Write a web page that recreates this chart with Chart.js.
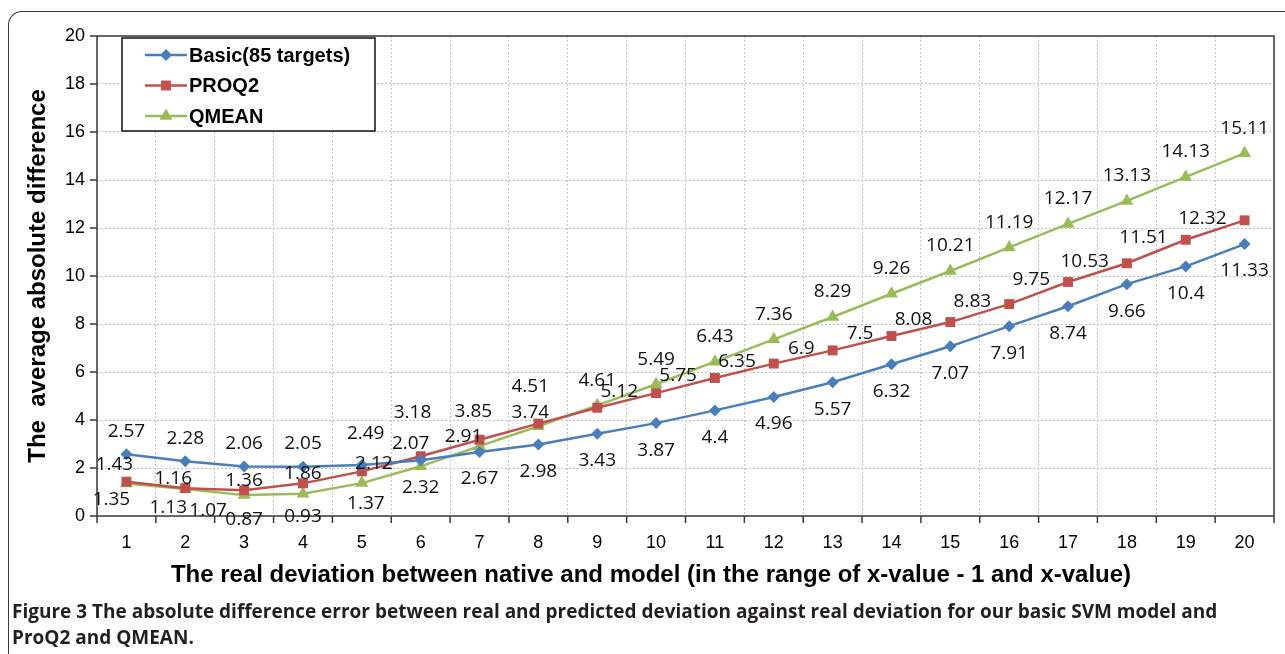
<!DOCTYPE html>
<html>
<head>
<meta charset="utf-8">
<script src="https://cdn.jsdelivr.net/npm/chart.js@4"></script>
<style>
  html, body { margin: 0; padding: 0; background: #fff; }
  body { width: 1285px; height: 654px; position: relative; overflow: hidden; }
  #frame {
    position: absolute; left: 8px; top: 11px; width: 1400px; height: 700px;
    border-top: 1.5px solid #3a3a3a; border-left: 1.5px solid #3a3a3a;
    border-top-left-radius: 14px;
  }
  #chart { position: absolute; left: 0; top: 0; }
  #caption {
    position: absolute; left: 12px; top: 598px;
    font-family: "Open Sans", sans-serif; font-weight: bold; font-size: 19px;
    line-height: 26px; color: #231f20; white-space: nowrap;
  }
</style>
</head>
<body>
<div id="frame"></div>
<canvas id="chart" width="1285" height="600"></canvas>
<div id="caption"><span>Figure 3</span> The absolute difference error between real and predicted deviation against real deviation for our basic SVM model and<br>ProQ2 and QMEAN.</div>
<script>
// ------------------- Dane -------------------
const categories = ['1','2','3','4','5','6','7','8','9','10','11','12','13','14','15','16','17','18','19','20'];
const basicValues = [2.57, 2.28, 2.06, 2.05, 2.12, 2.32, 2.67, 2.98, 3.43, 3.87, 4.4, 4.96, 5.57, 6.32, 7.07, 7.91, 8.74, 9.66, 10.4, 11.33];
const proq2Values = [1.43, 1.16, 1.07, 1.36, 1.86, 2.49, 3.18, 3.85, 4.51, 5.12, 5.75, 6.35, 6.9, 7.5, 8.08, 8.83, 9.75, 10.53, 11.51, 12.32];
const qmeanValues = [1.35, 1.13, 0.87, 0.93, 1.37, 2.07, 2.91, 3.74, 4.61, 5.49, 6.43, 7.36, 8.29, 9.26, 10.21, 11.19, 12.17, 13.13, 14.13, 15.11];
const seriesNames = ['Basic(85 targets)', 'PROQ2', 'QMEAN'];
const yMin = 0, yMax = 20, yStep = 2;

const xTitle = 'The real deviation between native and model (in the range of x-value - 1 and x-value)';
const yTitle = 'The  average absolute difference';

const axisFont = { family: 'Liberation Sans', size: 18 };
const gridColor = '#c4c4c4';

// ------------------- Pozycje etykiet (jak w oryginale z Excela) -------------------
function labelOffset(ds, i, w) {
    if (ds === 0) {                       // Basic: nad punktem na poczatku, potem pod
        if (i <= 3) return [0, -23];
        if (i === 4) return [12, -2];
        return [0, 27];
    }
    if (ds === 1) {                       // PROQ2: z lewej strony
        const early = { 0: [-12, -17], 1: [-12, -10], 2: [-36, 20], 3: [-59, -3], 4: [-59, 2],
                        5: [-55, -23], 6: [-67, -27], 7: [-65, -12], 8: [-67, -21] };
        if (early[i]) return early[i];
        return [-(w / 2 + 18), -2];
    }
    // QMEAN: pod punktem na poczatku, potem nad
    const early = { 0: [-15, 16], 1: [-17, 19], 2: [0, 24], 3: [0, 23], 4: [4, 20],
                    5: [-10, -23], 6: [-16, -10], 7: [-8, -14] };
    if (early[i]) return early[i];
    return [0, -25];
}

// ------------------- Pluginy -------------------
const framePlugin = {
    id: 'frame',
    beforeDatasetsDraw(chart) {
        const { ctx, chartArea: a, scales: { x, y } } = chart;
        ctx.save();
        ctx.strokeStyle = '#3a3a3a';
        ctx.lineWidth = 1.5;
        ctx.strokeRect(a.left, a.top, a.right - a.left, a.bottom - a.top);
        ctx.beginPath();
        const half = (x.getPixelForValue(1) - x.getPixelForValue(0)) / 2;
        for (let i = 0; i <= categories.length; i++) {
            const px = i < categories.length ? x.getPixelForValue(i) - half : x.getPixelForValue(i - 1) + half;
            ctx.moveTo(px, a.bottom);
            ctx.lineTo(px, a.bottom + 7);
        }
        y.ticks.forEach(t => {
            const py = y.getPixelForValue(t.value);
            ctx.moveTo(a.left - 7, py);
            ctx.lineTo(a.left, py);
        });
        ctx.stroke();

        // tytuly osi
        ctx.fillStyle = '#000';
        ctx.font = 'bold 24px "Liberation Sans"';
        ctx.textAlign = 'center';
        ctx.textBaseline = 'middle';
        ctx.save();
        ctx.translate(38, (a.top + a.bottom) / 2);
        ctx.rotate(-Math.PI / 2);
        ctx.fillText(yTitle, 0, 0);
        ctx.restore();
        ctx.font = 'bold 24px "Liberation Sans"';
        ctx.fillText(xTitle, 651, 575);
        ctx.restore();
    }
};

const dataLabelPlugin = {
    id: 'valueLabels',
    afterDatasetsDraw(chart) {
        const { ctx } = chart;
        ctx.save();
        ctx.font = '19px "Open Sans"';
        ctx.fillStyle = '#111';
        ctx.textAlign = 'center';
        ctx.textBaseline = 'middle';
        chart.data.datasets.forEach((dataset, ds) => {
            chart.getDatasetMeta(ds).data.forEach((pt, i) => {
                const txt = String(dataset.data[i]);
                const w = ctx.measureText(txt).width;
                const [dx, dy] = labelOffset(ds, i, w);
                ctx.fillText(txt, pt.x + dx, pt.y + dy);
            });
        });
        ctx.restore();
    }
};

const legendPlugin = {
    id: 'boxLegend',
    afterDraw(chart) {
        const { ctx } = chart;
        const bx = 122, by = 38, bw = 253, bh = 93;
        ctx.save();
        ctx.fillStyle = '#fff';
        ctx.fillRect(bx, by, bw, bh);
        ctx.strokeStyle = '#111';
        ctx.lineWidth = 1.5;
        ctx.strokeRect(bx, by, bw, bh);
        ctx.font = 'bold 20px "Liberation Sans"';
        ctx.textBaseline = 'middle';
        chart.data.datasets.forEach((d, k) => {
            const cy = by + 17 + k * 30.5;
            ctx.strokeStyle = d.borderColor;
            ctx.lineWidth = 2.5;
            ctx.beginPath();
            ctx.moveTo(bx + 23, cy);
            ctx.lineTo(bx + 65, cy);
            ctx.stroke();
            ctx.fillStyle = d.backgroundColor;
            Chart.helpers.drawPoint(ctx, { pointStyle: d.pointStyle, radius: d.pointRadius, borderWidth: 0 }, bx + 44, cy);
            ctx.fillStyle = '#000';
            ctx.fillText(d.label, bx + 67, cy + 1);
        });
        ctx.restore();
    }
};

// ------------------- Wykres -------------------
function makeSeries(label, data, color, style, radius) {
    return {
        label, data,
        borderColor: color, backgroundColor: color,
        borderWidth: 2.5, tension: 0,
        pointStyle: style, pointRadius: radius, pointBorderWidth: 0,
        pointBackgroundColor: color
    };
}

new Chart(document.getElementById('chart'), {
    type: 'line',
    data: {
        labels: categories,
        datasets: [
            makeSeries(seriesNames[0], basicValues, '#4a7ebb', 'rectRot', 6),
            makeSeries(seriesNames[1], proq2Values, '#c0504d', 'rect', 7),
            makeSeries(seriesNames[2], qmeanValues, '#9bbb59', 'triangle', 7.5)
        ]
    },
    options: {
        responsive: false,
        animation: false,
        devicePixelRatio: 1,
        layout: { padding: { left: 0, right: 11, top: 36, bottom: 0 } },
        plugins: { legend: { display: false }, tooltip: { enabled: false }, title: { display: false } },
        scales: {
            x: {
                offset: true,
                grid: { offset: true, color: gridColor, lineWidth: 1, drawTicks: false },
                border: { display: false, dash: [2, 2] },
                ticks: { font: axisFont, color: '#000', padding: 16, maxRotation: 0, autoSkip: false },
                afterFit: s => { s.height = 84; }
            },
            y: {
                min: yMin, max: yMax,
                grid: { color: gridColor, lineWidth: 1, drawTicks: false },
                border: { display: false, dash: [2, 2] },
                ticks: { stepSize: yStep, font: axisFont, color: '#000', padding: 12 },
                afterFit: s => { s.width = 97; }
            }
        }
    },
    plugins: [framePlugin, dataLabelPlugin, legendPlugin]
});
</script>
</body>
</html>
